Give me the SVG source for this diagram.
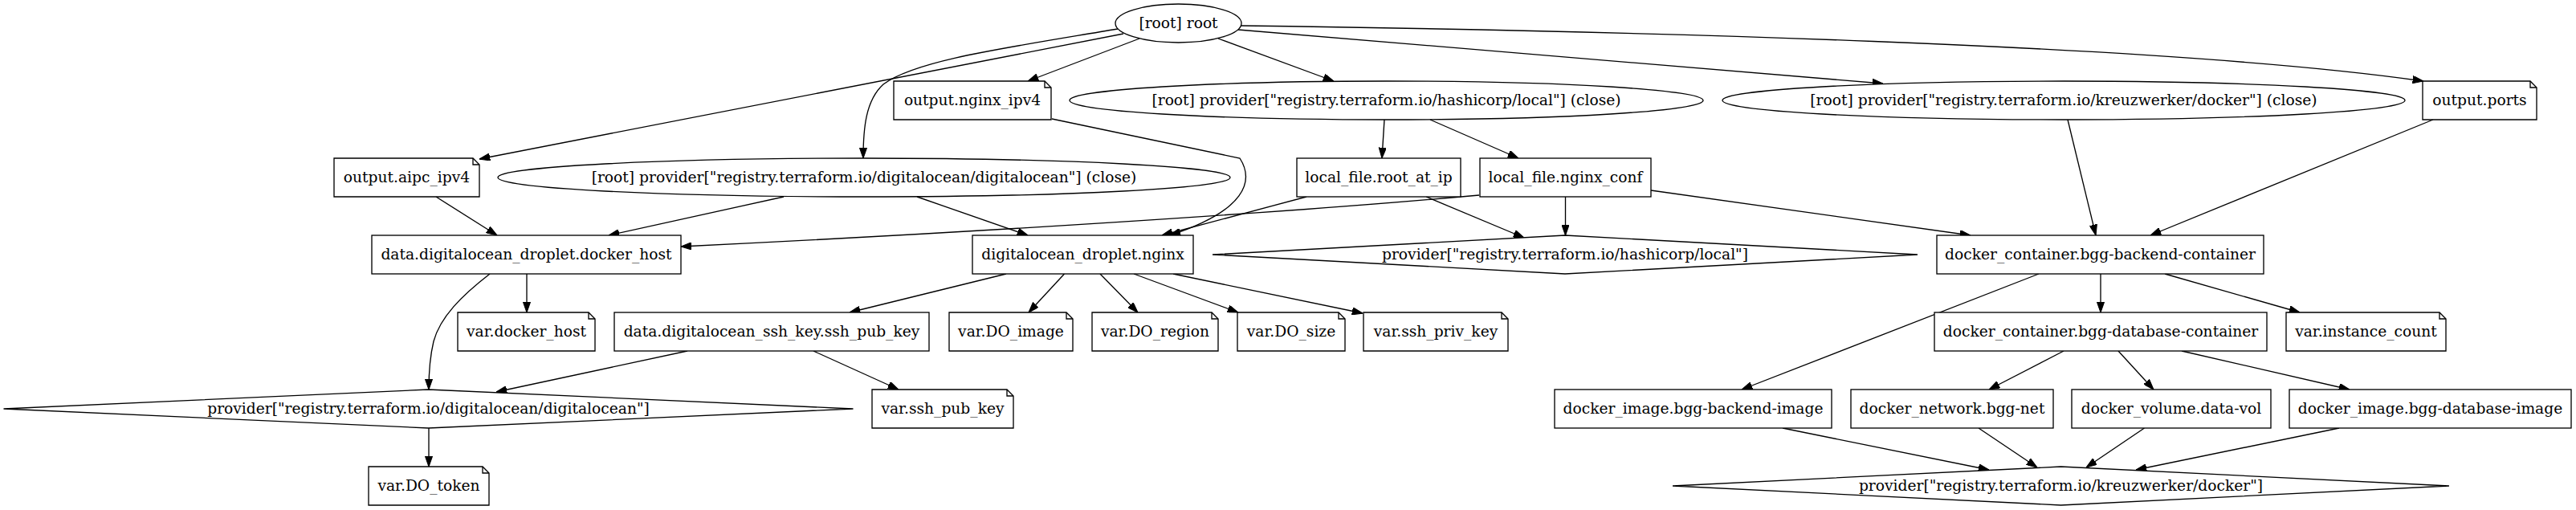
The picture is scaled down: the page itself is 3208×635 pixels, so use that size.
<svg xmlns="http://www.w3.org/2000/svg" width="3208" height="635" viewBox="0 0 3208 635">
<style>
.s{fill:#fff;stroke:#000;stroke-width:1.33}
.f{fill:none;stroke:#000;stroke-width:1.33}
text{font-family:"DejaVu Serif","Liberation Serif",serif;font-size:18.67px;text-anchor:middle;fill:#000}
#edges path{fill:none;stroke:#000;stroke-width:1.33;marker-end:url(#a)}
</style>
<defs>
<marker id="a" viewBox="0 0 10 7" refX="10" refY="3.5" markerWidth="13.3" markerHeight="9.3" markerUnits="userSpaceOnUse" orient="auto"><path d="M0,0 L10,3.5 L0,7 z" fill="#000" stroke="#000" stroke-width="0.8"/></marker>
</defs>
<rect width="3208" height="635" fill="#fff"/>
<g id="edges">
<path d="M1399,42 L597,198"/>
<path d="M1392,36 C1250,60 1140,75 1100,105 C1078,125 1075,160 1075,197"/>
<path d="M1419,48 L1280,101"/>
<path d="M1517,48 L1661,101"/>
<path d="M1542,37 L2345,104"/>
<path d="M1546,32 C2000,38 2700,55 3018,101"/>
<path d="M1310,148 L1544,197 C1562,225 1552,262 1457,293"/>
<path d="M1724,149 L1721,197"/>
<path d="M1781,149 L1891,197"/>
<path d="M2575,149 L2610,293"/>
<path d="M3030,149 L2678,293"/>
<path d="M543,245 L619,293"/>
<path d="M976,245 L758,293"/>
<path d="M1142,245 L1280,293"/>
<path d="M1627,245 L1447,293"/>
<path d="M1776,245 L1898,296"/>
<path d="M1842,243 C1600,265 1200,290 848,307"/>
<path d="M1949.5,245 L1949.5,293"/>
<path d="M2056,237 L2454,293"/>
<path d="M610,341 C575,368 548,395 540,425 C534,450 534,470 534,485"/>
<path d="M656,341 L656,389"/>
<path d="M1253,341 L1058,389"/>
<path d="M1325.5,341 L1281,389"/>
<path d="M1370,341 L1417,389"/>
<path d="M1412,341 L1542,389"/>
<path d="M1461,341 L1697,390"/>
<path d="M856,437 L618,488"/>
<path d="M1013,437 L1119,485"/>
<path d="M534,533 L534,581"/>
<path d="M2539,341 L2169,485"/>
<path d="M2616,341 L2616,389"/>
<path d="M2696,341 L2864,389"/>
<path d="M2570,437 L2477,485"/>
<path d="M2638,437 L2682,485"/>
<path d="M2717,437 L2926,485"/>
<path d="M2220,533 L2477,585"/>
<path d="M2464,533 L2537,582"/>
<path d="M2670.5,533 L2598,582"/>
<path d="M2913,533 L2660,585"/>
</g>
<g id="root"><ellipse class="s" cx="1467.5" cy="29" rx="78.5" ry="24"/><text x="1467.5" y="35">[root] root</text></g>
<g id="output_nginx_ipv4"><path class="s" d="M1113,101 H1301 L1309,109 V149 H1113 Z"/><path class="f" d="M1301,101 V109 H1309"/><text x="1211" y="131">output.nginx_ipv4</text></g>
<g id="provider_local_close"><ellipse class="s" cx="1726.5" cy="125" rx="394.5" ry="24"/><text x="1726.5" y="131">[root] provider["registry.terraform.io/hashicorp/local"] (close)</text></g>
<g id="provider_docker_close"><ellipse class="s" cx="2570" cy="125" rx="425" ry="24"/><text x="2570" y="131">[root] provider["registry.terraform.io/kreuzwerker/docker"] (close)</text></g>
<g id="output_ports"><path class="s" d="M3017,101 H3151 L3159,109 V149 H3017 Z"/><path class="f" d="M3151,101 V109 H3159"/><text x="3088" y="131">output.ports</text></g>
<g id="output_aipc_ipv4"><path class="s" d="M416,197 H589 L597,205 V245 H416 Z"/><path class="f" d="M589,197 V205 H597"/><text x="506.5" y="227">output.aipc_ipv4</text></g>
<g id="provider_do_close"><ellipse class="s" cx="1076" cy="221" rx="456" ry="24"/><text x="1076" y="227">[root] provider["registry.terraform.io/digitalocean/digitalocean"] (close)</text></g>
<g id="local_file_root_at_ip"><rect class="s" x="1615" y="197" width="204" height="48"/><text x="1717" y="227">local_file.root_at_ip</text></g>
<g id="local_file_nginx_conf"><rect class="s" x="1843" y="197" width="213" height="48"/><text x="1949.5" y="227">local_file.nginx_conf</text></g>
<g id="data_droplet_docker_host"><rect class="s" x="463" y="293" width="385" height="48"/><text x="655.5" y="323">data.digitalocean_droplet.docker_host</text></g>
<g id="droplet_nginx"><rect class="s" x="1211" y="293" width="275" height="48"/><text x="1348.5" y="323">digitalocean_droplet.nginx</text></g>
<g id="provider_local"><polygon class="s" points="1510,317 1949,293 2388,317 1949,341"/><text x="1949" y="323">provider["registry.terraform.io/hashicorp/local"]</text></g>
<g id="backend_container"><rect class="s" x="2412" y="293" width="407" height="48"/><text x="2615.5" y="323">docker_container.bgg-backend-container</text></g>
<g id="var_docker_host"><path class="s" d="M570,389 H733 L741,397 V437 H570 Z"/><path class="f" d="M733,389 V397 H741"/><text x="655.5" y="419">var.docker_host</text></g>
<g id="data_ssh_pub_key"><rect class="s" x="765" y="389" width="392" height="48"/><text x="961" y="419">data.digitalocean_ssh_key.ssh_pub_key</text></g>
<g id="var_DO_image"><path class="s" d="M1182,389 H1328 L1336,397 V437 H1182 Z"/><path class="f" d="M1328,389 V397 H1336"/><text x="1259" y="419">var.DO_image</text></g>
<g id="var_DO_region"><path class="s" d="M1360,389 H1509 L1517,397 V437 H1360 Z"/><path class="f" d="M1509,389 V397 H1517"/><text x="1438.5" y="419">var.DO_region</text></g>
<g id="var_DO_size"><path class="s" d="M1541,389 H1667 L1675,397 V437 H1541 Z"/><path class="f" d="M1667,389 V397 H1675"/><text x="1608" y="419">var.DO_size</text></g>
<g id="var_ssh_priv_key"><path class="s" d="M1698,389 H1870 L1878,397 V437 H1698 Z"/><path class="f" d="M1870,389 V397 H1878"/><text x="1788" y="419">var.ssh_priv_key</text></g>
<g id="database_container"><rect class="s" x="2409" y="389" width="414" height="48"/><text x="2616" y="419">docker_container.bgg-database-container</text></g>
<g id="var_instance_count"><path class="s" d="M2847,389 H3038 L3046,397 V437 H2847 Z"/><path class="f" d="M3038,389 V397 H3046"/><text x="2946.5" y="419">var.instance_count</text></g>
<g id="provider_do"><polygon class="s" points="4.5,509 533.5,485 1062.5,509 533.5,533"/><text x="533.5" y="515">provider["registry.terraform.io/digitalocean/digitalocean"]</text></g>
<g id="var_ssh_pub_key"><path class="s" d="M1086,485 H1254 L1262,493 V533 H1086 Z"/><path class="f" d="M1254,485 V493 H1262"/><text x="1174" y="515">var.ssh_pub_key</text></g>
<g id="backend_image"><rect class="s" x="1936" y="485" width="345" height="48"/><text x="2108.5" y="515">docker_image.bgg-backend-image</text></g>
<g id="bgg_net"><rect class="s" x="2305" y="485" width="252" height="48"/><text x="2431" y="515">docker_network.bgg-net</text></g>
<g id="data_vol"><rect class="s" x="2580" y="485" width="248" height="48"/><text x="2704" y="515">docker_volume.data-vol</text></g>
<g id="database_image"><rect class="s" x="2851" y="485" width="351" height="48"/><text x="3026.5" y="515">docker_image.bgg-database-image</text></g>
<g id="var_DO_token"><path class="s" d="M459,581 H601 L609,589 V629 H459 Z"/><path class="f" d="M601,581 V589 H609"/><text x="534" y="611">var.DO_token</text></g>
<g id="provider_docker"><polygon class="s" points="2083,605 2566.5,581 3050,605 2566.5,629"/><text x="2566.5" y="611">provider["registry.terraform.io/kreuzwerker/docker"]</text></g>
</svg>
